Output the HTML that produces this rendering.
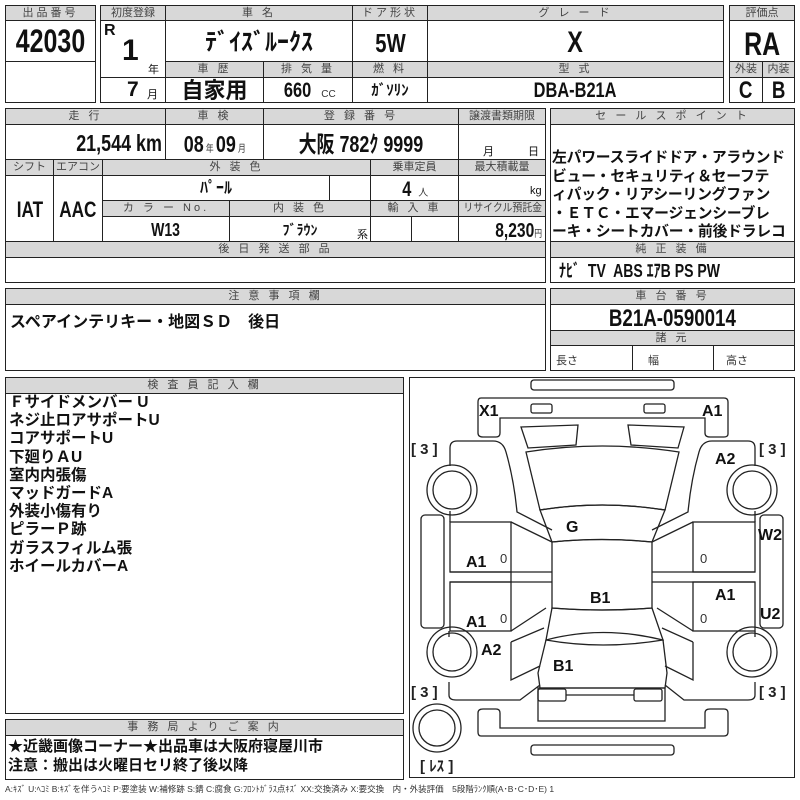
<!DOCTYPE html>
<html><head><meta charset="utf-8"><style>
body{margin:0;width:800px;height:800px;background:#fff;position:relative;overflow:hidden;font-family:"Liberation Sans","Noto Sans CJK JP",sans-serif;}
.c{position:absolute;box-sizing:border-box;border:1px solid #222;background:#fff;}
.h{background:#d8d8d8;color:#444;font-size:11px;text-align:center;letter-spacing:3px;line-height:14px;overflow:hidden;white-space:nowrap}
.v{font-family:"Liberation Sans","Noto Sans CJK JP",sans-serif;font-weight:bold;color:#111;text-align:center;white-space:nowrap;overflow:hidden}
.n{display:inline-block;transform:scaleX(.78);}
.r{transform-origin:right center}
.t{position:absolute;white-space:nowrap;color:#111}
.s{font-size:10px;font-weight:normal;color:#333}
</style></head><body>

<div class="c h" style="left:5px;top:5px;width:91px;height:16px">出品番号</div>
<div class="c v" style="left:5px;top:20px;width:91px;height:42px;font-size:32px;line-height:40px"><span class="n">42030</span></div>
<div class="c" style="left:5px;top:61px;width:91px;height:42px"></div>

<div class="c h" style="left:100px;top:5px;width:66px;height:16px;letter-spacing:0">初度登録</div>
<div class="c h" style="left:165px;top:5px;width:188px;height:16px">車 名</div>
<div class="c h" style="left:352px;top:5px;width:76px;height:16px">ドア形状</div>
<div class="c h" style="left:427px;top:5px;width:297px;height:16px">グ レ ー ド</div>
<div class="c" style="left:100px;top:20px;width:66px;height:58px"></div>
<div class="t v" style="left:104px;top:22px;font-size:16px">R</div>
<div class="t v" style="left:122px;top:34px;font-size:30px">1</div>
<div class="t" style="left:148px;top:61px;font-size:11px">年</div>
<div class="c" style="left:100px;top:77px;width:66px;height:26px"></div>
<div class="t v" style="left:127px;top:78px;font-size:21px">7</div>
<div class="t" style="left:147px;top:86px;font-size:11px">月</div>
<div class="c v" style="left:165px;top:20px;width:188px;height:42px;font-size:24px;line-height:44px">ﾃﾞｲｽﾞﾙｰｸｽ</div>
<div class="c v" style="left:352px;top:20px;width:76px;height:42px;font-size:26px;line-height:44px"><span class="n">5W</span></div>
<div class="c v" style="left:427px;top:20px;width:297px;height:42px;font-size:30px;line-height:44px"><span class="n">X</span></div>
<div class="c h" style="left:165px;top:61px;width:99px;height:17px">車 歴</div>
<div class="c h" style="left:263px;top:61px;width:90px;height:17px">排 気 量</div>
<div class="c h" style="left:352px;top:61px;width:76px;height:17px">燃 料</div>
<div class="c h" style="left:427px;top:61px;width:297px;height:17px">型 式</div>
<div class="c v" style="left:165px;top:77px;width:99px;height:26px;font-size:22px;line-height:26px">自家用</div>
<div class="c v" style="left:263px;top:77px;width:90px;height:26px;font-size:21px;line-height:26px"><span class="n">660</span> <span class="s">CC</span></div>
<div class="c v" style="left:352px;top:77px;width:76px;height:26px;font-size:15px;line-height:26px">ｶﾞｿﾘﾝ</div>
<div class="c v" style="left:427px;top:77px;width:297px;height:26px;font-size:21px;line-height:26px"><span class="n">DBA-B21A</span></div>

<div class="c h" style="left:729px;top:5px;width:66px;height:16px;letter-spacing:0">評価点</div>
<div class="c v" style="left:729px;top:20px;width:66px;height:42px;font-size:32px;line-height:46px"><span class="n">RA</span></div>
<div class="c h" style="left:729px;top:61px;width:34px;height:17px;letter-spacing:0">外装</div>
<div class="c h" style="left:762px;top:61px;width:33px;height:17px;letter-spacing:0">内装</div>
<div class="c v" style="left:729px;top:77px;width:34px;height:26px;font-size:24px;line-height:26px"><span class="n">C</span></div>
<div class="c v" style="left:762px;top:77px;width:33px;height:26px;font-size:24px;line-height:26px"><span class="n">B</span></div>

<div class="c h" style="left:5px;top:108px;width:161px;height:17px">走 行</div>
<div class="c h" style="left:165px;top:108px;width:99px;height:17px">車 検</div>
<div class="c h" style="left:263px;top:108px;width:196px;height:17px">登 録 番 号</div>
<div class="c h" style="left:458px;top:108px;width:88px;height:17px;letter-spacing:0">譲渡書類期限</div>
<div class="c v" style="left:5px;top:124px;width:161px;height:36px;font-size:23px;line-height:36px;text-align:right;padding-right:3px"><span class="n r">21,544 km</span></div>
<div class="c v" style="left:165px;top:124px;width:99px;height:36px;font-size:23px;line-height:38px"><span class="n">08<span class="s"> 年 </span>09<span class="s"> 月</span></span></div>
<div class="c v" style="left:263px;top:124px;width:196px;height:36px;font-size:23px;line-height:38px"><span class="n">大阪 782ｸ 9999</span></div>
<div class="c" style="left:458px;top:124px;width:88px;height:36px"></div>
<div class="t" style="left:483px;top:143px;font-size:11px">月</div>
<div class="t" style="left:528px;top:143px;font-size:11px">日</div>

<div class="c h" style="left:5px;top:159px;width:49px;height:17px;letter-spacing:0">シフト</div>
<div class="c h" style="left:53px;top:159px;width:50px;height:17px;letter-spacing:0">エアコン</div>
<div class="c h" style="left:102px;top:159px;width:269px;height:17px">外 装 色</div>
<div class="c h" style="left:370px;top:159px;width:89px;height:17px;letter-spacing:0">乗車定員</div>
<div class="c h" style="left:458px;top:159px;width:88px;height:17px;letter-spacing:0">最大積載量</div>
<div class="c v" style="left:5px;top:175px;width:49px;height:67px;font-size:22px;line-height:67px"><span class="n">IAT</span></div>
<div class="c v" style="left:53px;top:175px;width:50px;height:67px;font-size:22px;line-height:67px"><span class="n">AAC</span></div>
<div class="c v" style="left:102px;top:175px;width:228px;height:26px;font-size:16px;line-height:26px">ﾊﾟｰﾙ</div>
<div class="c" style="left:329px;top:175px;width:42px;height:26px"></div>
<div class="c v" style="left:370px;top:175px;width:89px;height:26px;font-size:21px;line-height:28px"><span class="n">4</span> <span class="s">人</span></div>
<div class="c" style="left:458px;top:175px;width:88px;height:26px"></div>
<div class="t" style="left:530px;top:185px;font-size:11px">kg</div>
<div class="c h" style="left:102px;top:200px;width:128px;height:17px">カ ラ ー No.</div>
<div class="c h" style="left:229px;top:200px;width:142px;height:17px">内 装 色</div>
<div class="c h" style="left:370px;top:200px;width:89px;height:17px">輸 入 車</div>
<div class="c h" style="left:458px;top:200px;width:88px;height:17px;letter-spacing:0"><span class="n" style="transform:scaleX(.9)">リサイクル預託金</span></div>
<div class="c v" style="left:102px;top:216px;width:128px;height:26px;font-size:18px;line-height:26px"><span class="n">W13</span></div>
<div class="c v" style="left:229px;top:216px;width:142px;height:26px;font-size:14px;line-height:26px">ﾌﾞﾗｳﾝ</div>
<div class="t" style="left:357px;top:226px;font-size:11px">系</div>
<div class="c" style="left:370px;top:216px;width:42px;height:26px"></div>
<div class="c" style="left:411px;top:216px;width:48px;height:26px"></div>
<div class="c v" style="left:458px;top:216px;width:88px;height:26px;font-size:20px;line-height:28px;text-align:right;padding-right:3px"><span class="n r">8,230<span class="s">円</span></span></div>
<div class="c h" style="left:5px;top:241px;width:541px;height:17px">後 日 発 送 部 品</div>
<div class="c" style="left:5px;top:257px;width:541px;height:26px"></div>

<div class="c h" style="left:550px;top:108px;width:245px;height:17px">セ ー ル ス ポ イ ン ト</div>
<div class="c" style="left:550px;top:124px;width:245px;height:118px"></div>
<div class="t" style="left:552px;top:149px;font-size:14.8px;line-height:18.5px;font-weight:bold;letter-spacing:-0.2px">左パワースライドドア・アラウンド<br>ビュー・セキュリティ＆セーフテ<br>ィパック・リアシーリングファン<br>・ＥＴＣ・エマージェンシーブレ<br>ーキ・シートカバー・前後ドラレコ</div>
<div class="c h" style="left:550px;top:241px;width:245px;height:17px">純 正 装 備</div>
<div class="c v" style="left:550px;top:257px;width:245px;height:26px;font-size:18px;line-height:26px;text-align:left;padding-left:8px"><span class="n" style="transform-origin:left center">ﾅﾋﾞ&nbsp; TV&nbsp; ABS ｴｱB PS PW</span></div>

<div class="c h" style="left:5px;top:288px;width:541px;height:17px">注 意 事 項 欄</div>
<div class="c" style="left:5px;top:304px;width:541px;height:67px"></div>
<div class="t" style="left:10px;top:308px;font-size:16px;font-weight:bold">スペアインテリキー・地図ＳＤ　後日</div>

<div class="c h" style="left:550px;top:288px;width:245px;height:17px">車 台 番 号</div>
<div class="c v" style="left:550px;top:304px;width:245px;height:27px;font-size:24px;line-height:28px"><span class="n">B21A-0590014</span></div>
<div class="c h" style="left:550px;top:330px;width:245px;height:16px">諸 元</div>
<div class="c" style="left:550px;top:345px;width:83px;height:26px"></div>
<div class="c" style="left:632px;top:345px;width:82px;height:26px"></div>
<div class="c" style="left:713px;top:345px;width:82px;height:26px"></div>
<div class="t" style="left:556px;top:352px;font-size:11px;color:#333">長さ</div>
<div class="t" style="left:648px;top:352px;font-size:11px;color:#333">幅</div>
<div class="t" style="left:726px;top:352px;font-size:11px;color:#333">高さ</div>

<div class="c h" style="left:5px;top:377px;width:399px;height:17px">検 査 員 記 入 欄</div>
<div class="c" style="left:5px;top:393px;width:399px;height:321px"></div>
<div class="t" style="left:9px;top:394px;font-size:15.5px;line-height:18.2px;font-weight:bold">Ｆサイドメンバー U<br>ネジ止ロアサポートU<br>コアサポートU<br>下廻りＡU<br>室内内張傷<br>マッドガードA<br>外装小傷有り<br>ピラーＰ跡<br>ガラスフィルム張<br>ホイールカバーA</div>

<div class="c h" style="left:5px;top:719px;width:399px;height:17px">事 務 局 よ り ご 案 内</div>
<div class="c" style="left:5px;top:735px;width:399px;height:45px"></div>
<div class="t" style="left:8px;top:737px;font-size:15px;line-height:19px;font-weight:bold">★近畿画像コーナー★出品車は大阪府寝屋川市<br>注意：搬出は火曜日セリ終了後以降</div>

<div class="c" style="left:409px;top:377px;width:386px;height:401px;border-width:1.5px"></div>
<svg style="position:absolute;left:0;top:0" width="800" height="800" viewBox="0 0 800 800">
<g fill="none" stroke="#222" stroke-width="1.3">
<rect x="531" y="380" width="143" height="10" rx="3"/>
<rect x="531" y="745" width="143" height="10" rx="3"/>
<path d="M481 398 H724 Q728 398 728 402 V434 Q728 437 724 437 H710 Q705 437 705 433 V418 H500 V433 Q500 437 496 437 H483 Q478 437 478 433 V402 Q478 398 481 398 Z"/>
<path d="M481 736 H724 Q728 736 728 732 V713 Q728 709 724 709 H710 Q705 709 705 713 V728 H500 V713 Q500 709 496 709 H483 Q478 709 478 713 V732 Q478 736 481 736 Z"/>
<rect x="531" y="404" width="21" height="9" rx="2"/>
<rect x="644" y="404" width="21" height="9" rx="2"/>
<path d="M521 427 L578 425 L576 445 L528 448 Z M628 425 L684 427 L678 448 L631 445 Z"/>
<path d="M526 452 Q602 440 679 452 L665 510 Q602 500 540 510 Z"/>
<path d="M540 510 Q602 500 665 510 L652 542 Q602 537 552 542 Z"/>
<path d="M552 542 Q602 537 652 542 L652 608 Q602 612 552 608 Z"/>
<path d="M552 608 Q602 612 652 608 L663 640 Q602 625 546 640 Z"/>
<path d="M546 640 Q602 650 663 640 L667 673 L665 688 L540 688 L538 673 Z"/>
<path d="M538 688 H665 V721 H538 Z"/>
<rect x="538" y="689" width="28" height="12" rx="2"/>
<rect x="634" y="689" width="28" height="12" rx="2"/>
<path d="M566 695 H634"/>
<path d="M450 466 V448 Q450 441 457 441 H493 Q503 441 506 452 Q514 480 517 512 L552 530 M450 511 V522"/>
<path d="M755 466 V448 Q755 441 748 441 H712 Q702 441 699 452 Q691 480 688 512 L652 530 M755 511 V522"/>
<rect x="450" y="522" width="61" height="50"/>
<rect x="450" y="582" width="61" height="49"/>
<path d="M450 572 H552 M450 582 H552 M511 522 L552 542 M511 631 L546 608 M511 572 V582"/>
<rect x="693" y="522" width="62" height="50"/>
<rect x="693" y="582" width="62" height="49"/>
<path d="M652 572 H755 M652 582 H755 M693 522 L652 542 M693 631 L657 608"/>
<rect x="421" y="515" width="23" height="113" rx="4"/>
<rect x="760" y="515" width="23" height="113" rx="4"/>
<path d="M449 631 V637 M449 682 V695 Q449 700 456 700 H520 L540 685 M511 642 L544 628 M511 642 V680 L540 666"/>
<path d="M755 631 V637 M755 682 V695 Q755 700 748 700 H684 L665 685 M693 642 L662 628 M693 642 V680 L665 666"/>
<circle cx="452" cy="490" r="25"/><circle cx="452" cy="490" r="19"/>
<circle cx="752" cy="490" r="25"/><circle cx="752" cy="490" r="19"/>
<circle cx="452" cy="652" r="25"/><circle cx="452" cy="652" r="19"/>
<circle cx="752" cy="652" r="25"/><circle cx="752" cy="652" r="19"/>
<circle cx="437" cy="728" r="24"/><circle cx="437" cy="728" r="18"/>
</g>
<g font-family="Liberation Sans,sans-serif" font-weight="bold" font-size="16" fill="#111">
<text x="479" y="416">X1</text><text x="702" y="416">A1</text>
<text x="715" y="464">A2</text>
<text x="566" y="532">G</text>
<text x="466" y="567">A1</text><text x="466" y="627">A1</text>
<text x="590" y="603">B1</text>
<text x="715" y="600">A1</text>
<text x="758" y="540">W2</text><text x="760" y="619">U2</text>
<text x="481" y="655">A2</text>
<text x="553" y="671">B1</text>
</g>
<g font-family="Liberation Sans,sans-serif" font-size="13" fill="#333">
<text x="500" y="563">0</text><text x="500" y="623">0</text>
<text x="700" y="563">0</text><text x="700" y="623">0</text>
</g>
<g font-family="Liberation Sans,'Noto Sans CJK JP',sans-serif" font-weight="bold" font-size="15" fill="#222">
<text x="411" y="454">[ 3 ]</text><text x="759" y="454">[ 3 ]</text>
<text x="411" y="697">[ 3 ]</text><text x="759" y="697">[ 3 ]</text>
<text x="420" y="771">[ ﾚｽ ]</text>
</g>
</svg>
<div class="t" style="left:5px;top:783px;font-size:8.5px;color:#333">A:ｷｽﾞ U:ﾍｺﾐ B:ｷｽﾞを伴うﾍｺﾐ P:要塗装 W:補修跡 S:錆 C:腐食 G:ﾌﾛﾝﾄｶﾞﾗｽ点ｷｽﾞ XX:交換済み X:要交換　内・外装評価　5段階ﾗﾝｸ順(A･B･C･D･E) 1</div>
</body></html>
